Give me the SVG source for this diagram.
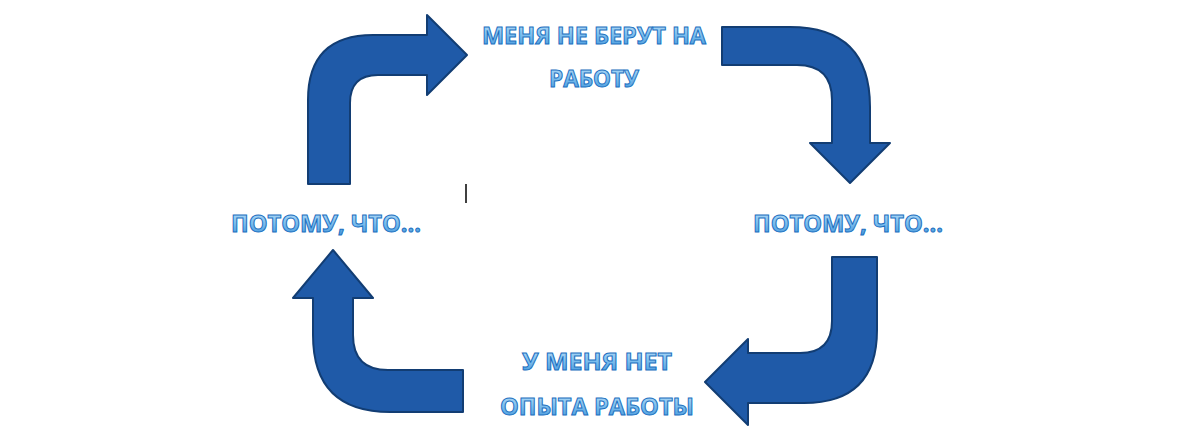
<svg xmlns="http://www.w3.org/2000/svg" width="1200" height="441" viewBox="0 0 1200 441">
<defs>
<linearGradient id="tg" x1="0" y1="0" x2="0" y2="1"><stop offset="0" stop-color="#cfe8fb"/><stop offset="0.5" stop-color="#7fc0ee"/><stop offset="1" stop-color="#3a8fd8"/></linearGradient>
</defs>
<style>
.ar{fill:#1f5aa8;stroke:#123d73;stroke-width:2;stroke-linejoin:round}
.t{font-family:"Open Sans","Liberation Sans",sans-serif;font-weight:bold;font-size:24px;fill:url(#tg);stroke:#1b6fc0;stroke-width:1;text-anchor:middle}
</style>
<rect width="1200" height="441" fill="#fff"/>
<g id="connectors">
<path class="ar" d="M308,184 V100 Q308,35 373,35 H427 V15 L467,55 L427,95 V75 H378 Q350,75 350,103 V184 Z"/>
<path class="ar" d="M722,27 H790 Q870,27 870,107 V143 H890 L850,183 L810,143 H832 V100 Q832,65 797,65 H722 Z"/>
<path class="ar" d="M877,257 V330 Q877,403 804,403 H748 V425 L705,382 L748,339 V353 H800 Q832,353 832,321 V257 Z"/>
<path class="ar" d="M463,412 H390 Q313,412 313,335 V298 H293 L333,250 L373,298 H353 V335 Q353,370 388,370 H463 Z"/>
</g>
<g id="n1"><text class="t" x="594" y="44" textLength="224" lengthAdjust="spacingAndGlyphs">МЕНЯ НЕ БЕРУТ НА</text><text class="t" x="594" y="87" textLength="90" lengthAdjust="spacingAndGlyphs">РАБОТУ</text></g>
<g id="n2"><text class="t" x="848" y="232" textLength="190" lengthAdjust="spacingAndGlyphs">ПОТОМУ, ЧТО...</text></g>
<g id="n3"><text class="t" x="597" y="370" textLength="150" lengthAdjust="spacingAndGlyphs">У МЕНЯ НЕТ</text><text class="t" x="597" y="415" textLength="194" lengthAdjust="spacingAndGlyphs">ОПЫТА РАБОТЫ</text></g>
<g id="n4"><text class="t" x="326" y="232" textLength="190" lengthAdjust="spacingAndGlyphs">ПОТОМУ, ЧТО...</text></g>
<line x1="466" y1="184" x2="466" y2="203" stroke="#000" stroke-width="1.5"/>
</svg>
